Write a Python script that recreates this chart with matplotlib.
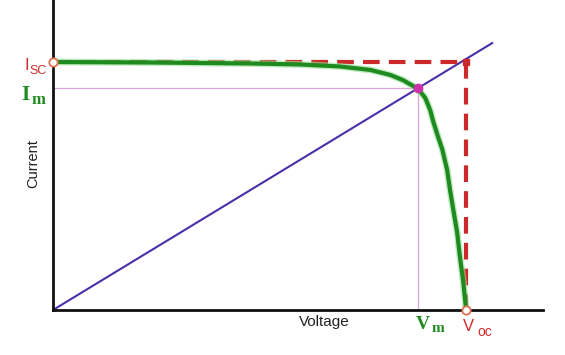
import matplotlib
matplotlib.use("Agg")
import matplotlib.pyplot as plt

# === DATA (normalised units: Voc = 1, Isc = 1) ===
voltage = [0.0, 0.235, 0.477, 0.598, 0.695, 0.768, 0.816, 0.847, 0.872, 0.884,
           0.901, 0.913, 0.920, 0.932, 0.942, 0.954, 0.961, 0.969, 0.978, 0.985,
           0.993, 1.0]
current = [1.0, 0.998, 0.994, 0.990, 0.982, 0.968, 0.948, 0.927, 0.903, 0.891,
           0.855, 0.806, 0.762, 0.698, 0.649, 0.565, 0.484, 0.403, 0.315, 0.214,
           0.113, 0.0]

isc = 1.0
voc = 1.0
vm = 0.884
im = 0.895
load_x = [0.0, 1.063]
load_y = [0.0, 1.063 * im / vm]

# === PLOT ===
fig = plt.figure(figsize=(5.65, 3.55), dpi=100)
ax = fig.add_axes([53 / 565, 45 / 355, 490 / 565, 310 / 355])
ax.set_xlim(0, 1.186)
ax.set_ylim(0, 1.25)

# guide lines to the max power point
ax.plot([0, vm], [im, im], color="#d9a6d9", lw=0.9, zorder=1)
ax.plot([vm, vm], [0, im], color="#d9a6d9", lw=0.9, zorder=1)

# load line
ax.plot(load_x, load_y, color="#4a2fa8", lw=1.5, zorder=2)

# Isc / Voc rectangle
ax.plot([0, voc], [isc, isc], color="#cc2a2a", lw=3, ls=(0, (4, 2.2)), zorder=3)
ax.plot([voc, voc], [isc, 0], color="#cc2a2a", lw=3, ls=(0, (4, 2.2)), zorder=3)
ax.plot([voc], [isc], marker="s", ms=5, color="#cc2a2a", zorder=4)

# I-V curve
ax.plot(voltage, current, color="#9be09b", lw=5, alpha=0.6, zorder=4,
        solid_capstyle="round", solid_joinstyle="round")
ax.plot(voltage, current, color="#1f8a1f", lw=3, zorder=5, solid_joinstyle="round")

# points
ax.plot([0], [isc], marker="o", ms=6, mfc="white", mec="#e07050", mew=1.3, zorder=6, clip_on=False)
ax.plot([voc], [0], marker="o", ms=6, mfc="white", mec="#e07050", mew=1.3, zorder=6, clip_on=False)
ax.plot([vm], [im], marker="o", ms=6, color="#cc33aa", zorder=6)

# axes styling
for side in ["top", "right"]:
    ax.spines[side].set_visible(False)
for side in ["left", "bottom"]:
    ax.spines[side].set_linewidth(2)
    ax.spines[side].set_color("#111111")
ax.set_xticks([])
ax.set_yticks([])

sans = "Liberation Sans"
ax.text(-0.048, 0.59, "Current", rotation=90, ha="center", va="center",
        fontsize=10.5, family=sans, color="#222222")
ax.text(0.656, -0.05, "Voltage", ha="center", va="center",
        fontsize=11, family=sans, color="#222222")

red = "#d02c2c"
green = "#1f8a1f"
ax.text(-0.064, 0.984, "I", ha="center", va="center", fontsize=12, family=sans, color=red)
ax.text(-0.036, 0.962, "SC", ha="center", va="center", fontsize=9, family=sans, color=red)
ax.text(1.005, -0.065, "V", ha="center", va="center", fontsize=12, family=sans, color=red)
ax.text(1.046, -0.090, "oc", ha="center", va="center", fontsize=10, family=sans, color=red)

serif = "Liberation Serif"
ax.text(-0.068, 0.866, "I", ha="center", va="center", fontsize=15, family=serif,
        weight="bold", color=green)
ax.text(-0.035, 0.848, "m", ha="center", va="center", fontsize=12, family=serif,
        weight="bold", color=green)
ax.text(0.895, -0.06, "V", ha="center", va="center", fontsize=14, family=serif,
        weight="bold", color=green)
ax.text(0.932, -0.073, "m", ha="center", va="center", fontsize=11, family=serif,
        weight="bold", color=green)

fig.savefig("out.png", dpi=100)
